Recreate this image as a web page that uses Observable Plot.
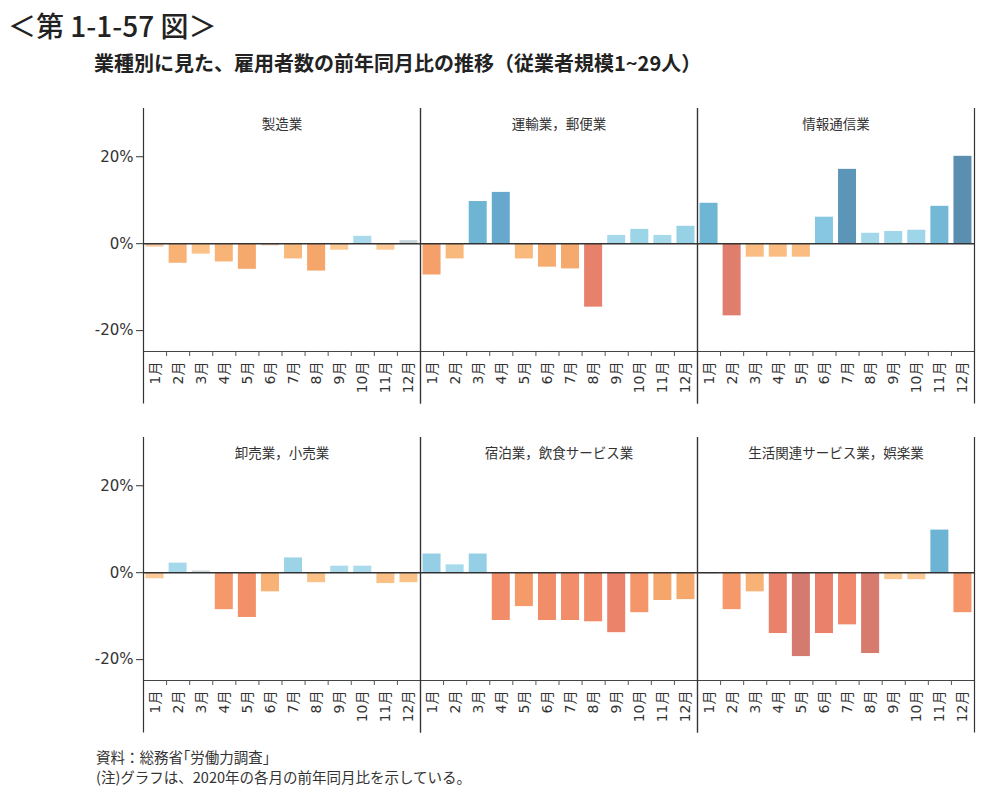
<!DOCTYPE html>
<html>
<head>
<meta charset="utf-8">
<script src="https://cdn.jsdelivr.net/npm/d3@7"></script>
<script src="https://cdn.jsdelivr.net/npm/@observablehq/plot@0.6"></script>
<style>
  html, body { margin: 0; padding: 0; background: #fff; }
  #wrap { position: relative; width: 994px; height: 803px; overflow: hidden; font-family: "Noto Sans CJK JP", sans-serif; color: #222; }
  #title { position: absolute; left: 8px; top: 5px; font-size: 28px; line-height: 40px; font-weight: 500; white-space: nowrap; font-family: "Noto Sans CJK JP", sans-serif; }
  #subtitle { position: absolute; left: 94px; top: 50px; font-size: 20px; line-height: 26px; font-weight: bold; white-space: nowrap; color: #222; }
  #chart { position: absolute; left: 0; top: 0; }
  #caption { position: absolute; left: 96px; top: 747px; font-size: 14.5px; line-height: 20px; white-space: nowrap; color: #333; }
</style>
</head>
<body>
<div id="wrap">
  <div id="chart"></div>
  <div id="title">＜第 1-1-57 図＞</div>
  <div id="subtitle">業種別に見た、雇用者数の前年同月比の推移（従業者規模1~29人）</div>
  <div id="caption">資料：総務省｢労働力調査｣<br>(注)グラフは、2020年の各月の前年同月比を示している。</div>
</div>
<script>
// ---- data ----
const months = ["1月","2月","3月","4月","5月","6月","7月","8月","9月","10月","11月","12月"];
const panelNames = ["製造業","運輸業，郵便業","情報通信業","卸売業，小売業","宿泊業，飲食サービス業","生活関連サービス業，娯楽業"];
const manufacturing   = [-0.8, -4.5, -2.4, -4.2, -5.9, -0.5, -3.5, -6.3, -1.5, 1.7, -1.5, 0.7];
const transport       = [-7.2, -3.5, 9.7, 11.8, -3.5, -5.4, -5.8, -14.6, 1.9, 3.3, 1.9, 4.0];
const infoComm        = [9.3, -16.6, -3.1, -3.1, -3.1, 6.1, 17.1, 2.4, 2.8, 3.1, 8.6, 20.1];
const wholesaleRetail = [-1.4, 2.2, 0.4, -8.5, -10.3, -4.4, 3.4, -2.3, 1.5, 1.5, -2.5, -2.3];
const lodgingFood     = [4.3, 1.8, 4.3, -11.0, -7.8, -11.0, -11.0, -11.3, -13.8, -9.2, -6.4, -6.2];
const lifeLeisure     = [-0.3, -8.5, -4.4, -14.0, -19.3, -14.0, -12.0, -18.6, -1.6, -1.6, 9.8, -9.2];
const yTicks = [-20, 0, 20];

// ---- styles ----
const colorStops = [-20, -16.5, -13.5, -10.5, -8, -6, -4, -2.3, -1.2, -0.7, -0.4, 0, 0.6, 1.5, 3.5, 6, 9, 12, 17, 20];
const colorRange = ["#d27970","#e07e6d","#ec836b","#f38f6a","#f59a6a","#f6a86b","#f8b578","#fbc287","#fccb9a","#f8c9a0","#e6ccb6","#d8d8d8","#c9d3d9","#a9dbec","#9bd3e7","#88c8e1","#70b7d6","#66a8cb","#5b96b8","#5a8fb0"];
const yDomain = [-24.8, 31.1];
const labelBottom = -36.9; // separators run down through the label band

const series = [manufacturing, transport, infoComm, wholesaleRetail, lodgingFood, lifeLeisure];
const panels = panelNames.map((name, i) => ({name, col: i % 3, row: Math.floor(i / 3)}));
const rows = [];
series.forEach((vals, i) => vals.forEach((v, j) => rows.push({
  col: panels[i].col, row: panels[i].row, m: j + 1, value: v
})));
const monthNums = months.map((_, i) => i + 1);
const boundaries = monthNums.slice(0, -1).map(m => m + 0.5);

const chart = Plot.plot({
  width: 994,
  height: 745,
  marginTop: 108,
  marginBottom: 65,
  marginLeft: 142,
  marginRight: 19,
  style: {fontFamily: "'DejaVu Sans','Noto Sans CJK JP',sans-serif", fontSize: "14px", color: "#333", background: "transparent"},
  x: {domain: [0.5, 12.5], axis: null},
  y: {domain: yDomain, axis: null, label: null},
  fx: {domain: [0, 1, 2], axis: null, padding: 0},
  fy: {domain: [0, 1], axis: null, paddingInner: 0.2614, paddingOuter: 0},
  color: {type: "linear", domain: colorStops, range: colorRange, clamp: true},
  marks: [
    Plot.rect(rows, {fx: "col", fy: "row", x1: d => d.m - 0.39, x2: d => d.m + 0.39, y1: 0, y2: "value", fill: "value"}),
    Plot.ruleY([0], {stroke: "#333", strokeWidth: 1.5}),
    Plot.ruleY([yDomain[0]], {stroke: "#444", strokeWidth: 1.2}),
    Plot.ruleX([0.5, 12.5], {y1: yDomain[1], y2: labelBottom, stroke: "#333", strokeWidth: 1.2}),
    Plot.axisX({ticks: boundaries, tickFormat: () => "", tickSize: 5, stroke: "#555", facetAnchor: null, label: null}),
    Plot.axisX({ticks: monthNums, tickFormat: m => months[m - 1], tickSize: 0, tickPadding: 10, tickRotate: -90, fontSize: 14, fill: "#333", facetAnchor: null, label: null}),
    Plot.axisY({ticks: yTicks, tickFormat: d => d + "%", tickSize: 7, tickPadding: 3, fontSize: 15, fill: "#333", stroke: "#333", label: null}),
    Plot.text(panels, {fx: "col", fy: "row", text: "name", frameAnchor: "top", lineAnchor: "middle", dy: 16, fontSize: 13.5, fill: "#333", fontFamily: "'Noto Sans CJK JP',sans-serif"})
  ]
});
document.getElementById("chart").appendChild(chart);
</script>
</body>
</html>
